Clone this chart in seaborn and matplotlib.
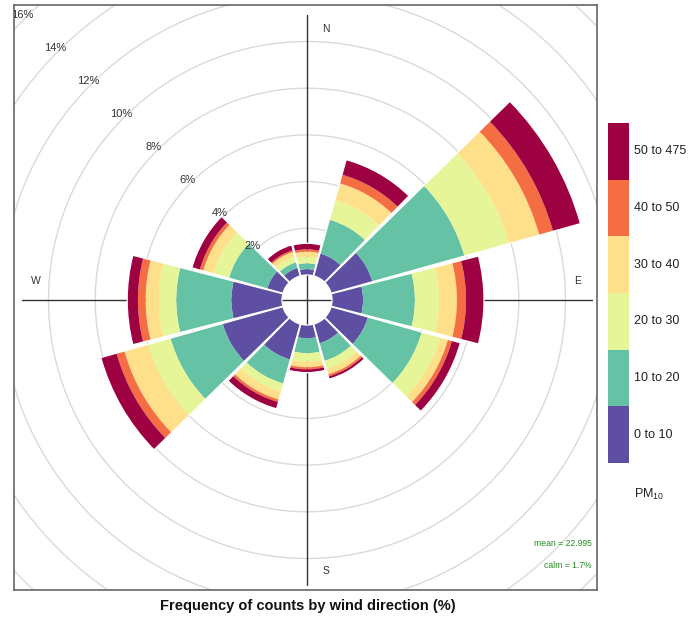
import numpy as np
import pandas as pd
import matplotlib.pyplot as plt
import seaborn as sns
from matplotlib.patches import Wedge, Circle

sns.set_style("white")
plt.rcParams['font.family'] = ['Liberation Sans', 'DejaVu Sans']
plt.rcParams['mathtext.fontset'] = 'custom'
plt.rcParams['mathtext.rm'] = 'Liberation Sans'
plt.rcParams['mathtext.it'] = 'Liberation Sans:italic'

# 风向 (度) 与 PM10 分级
directions = [0, 30, 60, 90, 120, 150, 180, 210, 240, 270, 300, 330]
bands = ['0 to 10', '10 to 20', '20 to 30', '30 to 40', '40 to 50', '50 to 475']

# 各风向下每个浓度区间的频率 (%)
freq_0_10 = [0.25, 1.00, 1.84, 1.33, 1.64, 0.86, 0.57, 1.58, 2.68, 2.17, 0.70, 0.36]
freq_10_20 = [0.25, 1.50, 4.09, 2.22, 2.39, 0.78, 0.64, 1.07, 2.32, 2.36, 1.70, 0.25]
freq_20_30 = [0.28, 0.88, 1.99, 1.03, 0.82, 0.36, 0.36, 0.35, 1.00, 0.74, 0.70, 0.25]
freq_30_40 = [0.22, 0.74, 1.34, 0.77, 0.35, 0.24, 0.24, 0.36, 1.05, 0.57, 0.45, 0.21]
freq_40_50 = [0.10, 0.38, 0.61, 0.39, 0.18, 0.09, 0.09, 0.11, 0.35, 0.33, 0.15, 0.07]
freq_50_475 = [0.26, 0.67, 1.22, 0.77, 0.37, 0.12, 0.14, 0.30, 0.70, 0.46, 0.35, 0.24]

grid_levels = [2, 4, 6, 8, 10, 12, 14, 16]
compass = ['N', 'E', 'S', 'W']
mean_text = 'mean = 22.995'
calm_text = 'calm = 1.7%'
title = 'Frequency of counts by wind direction (%)'

colors = sns.color_palette(['#5E4FA2', '#66C2A5', '#E6F598', '#FEE08B', '#F46D43', '#9E0142'])

df = pd.DataFrame({'direction': directions,
                   bands[0]: freq_0_10, bands[1]: freq_10_20, bands[2]: freq_20_30,
                   bands[3]: freq_30_40, bands[4]: freq_40_50, bands[5]: freq_50_475})
cum = df[bands].cumsum(axis=1)

# 图形尺寸 (像素)
W_PX, H_PX = 698, 638
def fx(x):
    return x / W_PX
def fy(y):
    return 1 - y / H_PX

PX = 23.35          # 每 1% 对应的像素
OFFSET = 25 / PX    # 中心空洞半径
cx, cy = 307, 300   # 中心 (像素)
left, right, top, bottom = 14, 597, 5, 590

fig = plt.figure(figsize=(W_PX / 100, H_PX / 100), dpi=100, facecolor='white')
ax = fig.add_axes([fx(left), fy(bottom), fx(right) - fx(left), fy(top) - fy(bottom)])
ax.set_xlim(-(cx - left) / PX, (right - cx) / PX)
ax.set_ylim(-(bottom - cy) / PX, (cy - top) / PX)
ax.set_xticks([])
ax.set_yticks([])
for s in ax.spines.values():
    s.set_color('#666666')
    s.set_linewidth(1.2)

# 网格圆与百分比标签
for g in grid_levels:
    r = OFFSET + g
    ax.add_patch(Circle((0, 0), r, fill=False, ec='#DADADA', lw=1.0, zorder=1))
    rl = r + 0.2
    ax.text(-rl * np.cos(np.pi / 4), rl * np.sin(np.pi / 4), f'{g}%',
            ha='center', va='center', fontsize=8, color='#333333', zorder=6, clip_on=True)

# 坐标轴十字线
L = 12.2
ax.plot([-L, L], [0, 0], color='#333333', lw=1.0, zorder=2)
ax.plot([0, 0], [-L, L], color='#333333', lw=1.0, zorder=2)

# 方位标签
rlab, off = 11.6, 0.8
for lab, (x, y) in zip(compass, [(off, rlab), (rlab, off), (off, -rlab), (-rlab, off)]):
    ax.text(x, y, lab, ha='center', va='center', fontsize=7.5, color='#333333', zorder=5)

# 玫瑰图扇区
half = 15 - 0.6
for i, d in enumerate(df['direction']):
    theta_c = 90 - d
    inner = OFFSET
    for j, b in enumerate(bands):
        outer = OFFSET + cum.loc[i, b]
        ax.add_patch(Wedge((0, 0), outer, theta_c - half, theta_c + half,
                           width=outer - inner, fc=colors[j], ec='none', zorder=3))
        inner = outer
    ax.add_patch(Wedge((0, 0), inner, theta_c - half, theta_c + half,
                       width=inner - OFFSET, fc='none', ec='white', lw=0.9, zorder=4))

ax.text((right - cx - 5) / PX, -(543 - cy) / PX, mean_text, ha='right', va='center',
        fontsize=6.2, color='forestgreen')
ax.text((right - cx - 5) / PX, -(565 - cy) / PX, calm_text, ha='right', va='center',
        fontsize=6.2, color='forestgreen')

# 色标
cax = fig.add_axes([fx(608), fy(463), fx(629) - fx(608), fy(123) - fy(463)])
cax.bar([0] * len(bands), [1] * len(bands), bottom=np.arange(len(bands)), width=1,
        color=colors, edgecolor='none')
cax.set_xlim(-0.5, 0.5)
cax.set_ylim(0, len(bands))
cax.axis('off')
for j, b in enumerate(bands):
    fig.text(fx(634), fy(463 - (j + 0.5) * (463 - 123) / len(bands)), b,
             ha='left', va='center', fontsize=9, color='#222222')
fig.text(fx(634), fy(494), r'PM$_{\mathrm{10}}$', ha='left', va='center',
         fontsize=9, color='#222222')

fig.text(fx(308), fy(606), title, ha='center', va='center', fontsize=10.5,
         fontweight='bold', color='#111111')

fig.savefig('out.png', dpi=100, facecolor='white')
